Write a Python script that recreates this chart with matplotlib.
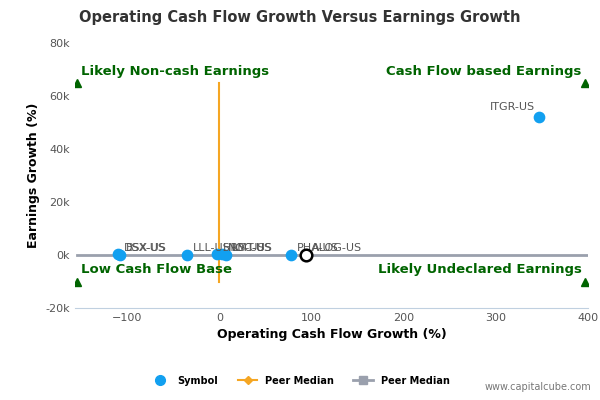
import matplotlib.pyplot as plt
from matplotlib.lines import Line2D

# Peer data (operating cash flow growth %, earnings growth %)
symbols = ['DSX-US', 'BSX-US', 'LLL-US', 'HRS-US', 'NOC-US', 'LMT-US', 'PHA-US', 'ITGR-US']
ocf_growth = [-110, -108, -35, -3, 3, 7, 78, 347]
eps_growth = [300, 200, 200, 300, 250, 200, 200, 52000]
company = 'ALOG-US'
company_ocf = 94
company_eps = 200
median_x = -1
median_y = 0

fig = plt.figure(figsize=(6, 4), dpi=100)
ax = fig.add_axes([0.125, 0.23, 0.855, 0.662])

ax.plot([median_x, median_x], [-10000, 65000], color='#f5a623', lw=1.5, zorder=2)
ax.plot([-155, 400], [median_y, median_y], color='#9aa0ad', lw=2, zorder=1)
ax.scatter(ocf_growth, eps_growth, s=55, color='#12a0f0', zorder=3)
ax.scatter([company_ocf], [company_eps], s=70, facecolor='white', edgecolor='black', lw=1.8, zorder=4)
for s, x, y in zip(symbols, ocf_growth, eps_growth):
    if s == 'ITGR-US':
        off, ha = (-3, 4), 'right'
    else:
        off, ha = (4, 1), 'left'
    ax.annotate(s, (x, y), xytext=off, textcoords='offset points', ha=ha,
                va='bottom', fontsize=8, color='#555555')
ax.annotate(company, (company_ocf, company_eps), xytext=(4, 1), textcoords='offset points',
            ha='left', va='bottom', fontsize=8, color='#555555')

green = '#006400'
for x, y in [(-155, 65000), (397, 65000), (-155, -10000), (397, -10000)]:
    ax.plot(x, y, marker='^', color=green, ms=6, ls='none')
kw = dict(color=green, fontsize=9.5, fontweight='bold')
ax.text(-150, 67000, 'Likely Non-cash Earnings', ha='left', va='bottom', **kw)
ax.text(393, 67000, 'Cash Flow based Earnings', ha='right', va='bottom', **kw)
ax.text(-150, -8000, 'Low Cash Flow Base', ha='left', va='bottom', **kw)
ax.text(393, -8000, 'Likely Undeclared Earnings', ha='right', va='bottom', **kw)

ax.set_xlim(-157, 400)
ax.set_ylim(-20000, 80000)
ax.set_xticks([-100, 0, 100, 200, 300, 400])
ax.set_yticks([-20000, 0, 20000, 40000, 60000, 80000])
ax.set_yticklabels(['-20k', '0k', '20k', '40k', '60k', '80k'])
ax.tick_params(labelsize=8, colors='#555555', length=0)
for sp in ['top', 'right', 'left']:
    ax.spines[sp].set_visible(False)
ax.spines['bottom'].set_color('#c0d0e0')
ax.set_xlabel('Operating Cash Flow Growth (%)', fontsize=9, fontweight='bold')
ax.set_ylabel('Earnings Growth (%)', fontsize=9, fontweight='bold')
fig.suptitle('Operating Cash Flow Growth Versus Earnings Growth', x=0.5, y=0.975,
             fontsize=10.5, fontweight='bold', color='#333333')

handles = [Line2D([], [], marker='o', color='#12a0f0', ls='none', ms=7),
           Line2D([], [], marker='D', color='#f5a623', ms=4, lw=1.5),
           Line2D([], [], marker='s', color='#9aa0ad', ms=6, lw=2)]
fig.legend(handles, ['Symbol', 'Peer Median', 'Peer Median'], loc='center', ncol=3,
           bbox_to_anchor=(0.5, 0.048), frameon=False, prop={'size': 7, 'weight': 'bold'})
fig.text(0.985, 0.025, 'www.capitalcube.com', ha='right', fontsize=7, color='#777777')

fig.savefig('out.png')
